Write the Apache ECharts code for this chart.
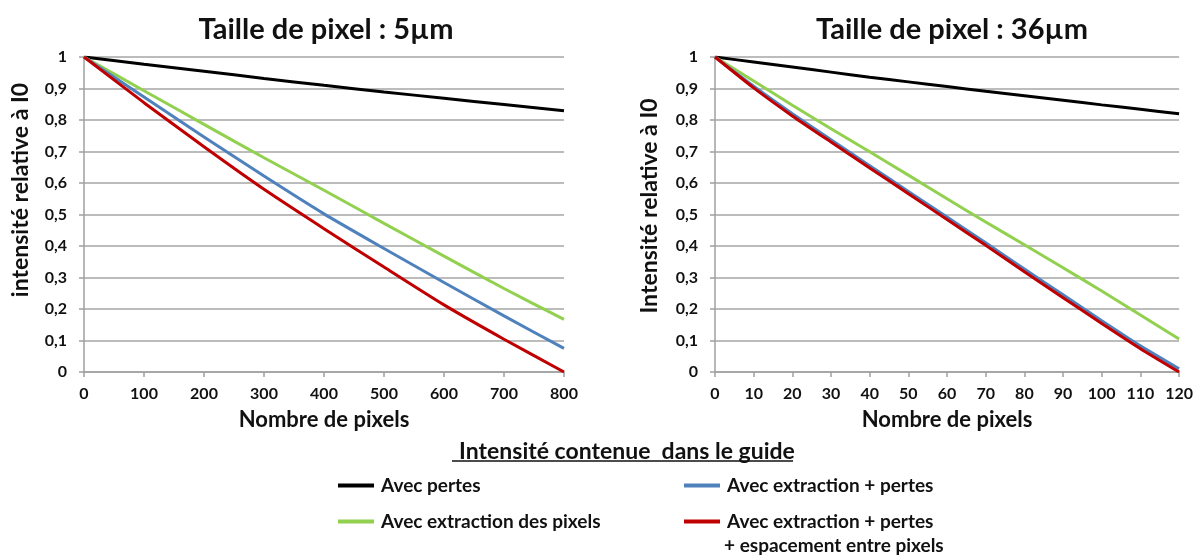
<!DOCTYPE html>
<html>
<head>
<meta charset="utf-8">
<script src="https://cdn.jsdelivr.net/npm/echarts@6/dist/echarts.min.js"></script>
<style>
html,body{margin:0;padding:0;background:#fff;}
#c{width:1196px;height:555px;}
</style>
</head>
<body>
<div id="c"></div>
<script>
// ---- data ----
const titles = ['Taille de pixel : 5µm', 'Taille de pixel : 36µm'];
const yNames = ['intensité relative à I0', 'Intensité relative à I0'];
const xName = 'Nombre de pixels';
const legendTitle = 'Intensité contenue  dans le guide';
const seriesNames = ['Avec pertes', 'Avec extraction des pixels', 'Avec extraction + pertes', 'Avec extraction + pertes + espacement entre pixels'];
const legendLines = ['Avec extraction + pertes', '+ espacement entre pixels'];

const x5 = [0, 100, 200, 300, 400, 500, 600, 700, 800];
const black5 = [1, 0.977, 0.955, 0.932, 0.910, 0.889, 0.869, 0.849, 0.829];
const green5 = [1, 0.893, 0.786, 0.680, 0.577, 0.472, 0.368, 0.265, 0.167];
const blue5  = [1, 0.873, 0.746, 0.622, 0.502, 0.392, 0.284, 0.178, 0.075];
const red5   = [1, 0.855, 0.715, 0.580, 0.455, 0.333, 0.213, 0.104, 0.000];

const x36 = [0, 10, 20, 30, 40, 50, 60, 70, 80, 90, 100, 110, 120];
const black36 = [1, 0.984, 0.968, 0.952, 0.936, 0.921, 0.906, 0.891, 0.877, 0.863, 0.848, 0.834, 0.820];
const green36 = [1, 0.924, 0.847, 0.772, 0.699, 0.625, 0.550, 0.476, 0.404, 0.331, 0.257, 0.181, 0.105];
const blue36  = [1, 0.907, 0.820, 0.737, 0.655, 0.573, 0.492, 0.410, 0.327, 0.245, 0.163, 0.083, 0.010];
const red36   = [1, 0.902, 0.813, 0.730, 0.648, 0.566, 0.484, 0.402, 0.318, 0.236, 0.154, 0.074, 0.000];

const colors = ['#000000', '#92d050', '#4f81bd', '#c00000'];

// ---- chart ----
const FONT = 'Lato, "Open Sans", sans-serif';
const chart = echarts.init(document.getElementById('c'), null, {renderer: 'canvas'});

function zip(xs, ys) { return xs.map((x, i) => [x, ys[i]]); }
const fmtY = v => String(Math.round(v * 10) / 10).replace('.', ',');

function xAxis(idx, max, interval) {
  return {
    type: 'value', gridIndex: idx, min: 0, max: max, interval: interval,
    name: xName, nameLocation: 'middle', nameGap: 37,
    nameTextStyle: {fontFamily: FONT, fontWeight: 'bold', fontSize: 22, color: '#111'},
    axisLine: {show: true, lineStyle: {color: '#a0a0a0', width: 1.5}},
    axisTick: {show: true, length: 5, lineStyle: {color: '#a0a0a0', width: 1.5}},
    axisLabel: {fontFamily: FONT, fontWeight: 'bold', fontSize: 16, color: '#111', margin: 14},
    splitLine: {show: false}
  };
}
function yAxis(idx, name, gap, shift) {
  return {
    type: 'value', gridIndex: idx, min: 0, max: 1, interval: 0.1,
    name: name, nameLocation: 'middle', nameGap: gap, nameRotate: 90,
    nameTextStyle: {fontFamily: FONT, fontWeight: 'bold', fontSize: 23, color: '#111', padding: [0, 0, 0, shift]},
    axisLine: {show: true, lineStyle: {color: '#a0a0a0', width: 1.5}},
    axisTick: {show: true, length: 5, lineStyle: {color: '#a0a0a0', width: 1.5}},
    axisLabel: {fontFamily: FONT, fontWeight: 'bold', fontSize: 16, color: '#111', margin: 17, formatter: fmtY},
    splitLine: {show: true, lineStyle: {color: '#a6a6a6', width: 1.5}}
  };
}
function line(name, data, color, idx) {
  return {
    type: 'line', name: name, xAxisIndex: idx, yAxisIndex: idx,
    data: data, showSymbol: false, symbol: 'none', smooth: 0.2,
    lineStyle: {color: color, width: 3}, itemStyle: {color: color}, z: 3
  };
}

const legendCommon = {
  orient: 'vertical', icon: 'rect', itemWidth: 36, itemHeight: 4, itemGap: 17,
  textStyle: {fontFamily: FONT, fontWeight: 'bold', fontSize: 19, color: '#111', padding: [0, 0, 0, 2]},
  selectedMode: false
};

const option = {
  backgroundColor: '#ffffff',
  animation: false,
  title: [
    {text: titles[0], left: 321, top: 10, textAlign: 'center',
     textStyle: {fontFamily: FONT, fontWeight: 'bold', fontSize: 29, color: '#111'}},
    {text: titles[1], left: 947, top: 10, textAlign: 'center',
     textStyle: {fontFamily: FONT, fontWeight: 'bold', fontSize: 29, color: '#111'}},
    {text: legendTitle, left: 622, top: 435, textAlign: 'center',
     textStyle: {fontFamily: FONT, fontWeight: 'bold', fontSize: 23, color: '#111'}}
  ],
  grid: [
    {left: 84, right: 632, top: 57, bottom: 183},
    {left: 715, right: 16, top: 57, bottom: 183}
  ],
  xAxis: [xAxis(0, 800, 100), xAxis(1, 120, 10)],
  yAxis: [yAxis(0, yNames[0], 52, 49), yAxis(1, yNames[1], 54, 17)],
  legend: [
    Object.assign({}, legendCommon, {left: 333, top: 471, data: [seriesNames[0], seriesNames[1]]}),
    Object.assign({}, legendCommon, {left: 679, top: 471, data: [seriesNames[2], seriesNames[3]],
      formatter: n => n === seriesNames[3] ? legendLines[0] : n})
  ],
  graphic: [
    {type: 'line', shape: {x1: 452, y1: 461, x2: 793, y2: 461}, style: {stroke: '#111', lineWidth: 1.5}},
    {type: 'text', left: 724, top: 536, style: {text: legendLines[1], fill: '#111',
      font: 'bold 19px ' + FONT}}
  ],
  series: [
    line(seriesNames[0], zip(x5, black5), colors[0], 0),
    line(seriesNames[1], zip(x5, green5), colors[1], 0),
    line(seriesNames[2], zip(x5, blue5), colors[2], 0),
    line(seriesNames[3], zip(x5, red5), colors[3], 0),
    line(seriesNames[0], zip(x36, black36), colors[0], 1),
    line(seriesNames[1], zip(x36, green36), colors[1], 1),
    line(seriesNames[2], zip(x36, blue36), colors[2], 1),
    line(seriesNames[3], zip(x36, red36), colors[3], 1)
  ]
};
chart.setOption(option);
</script>
</body>
</html>
